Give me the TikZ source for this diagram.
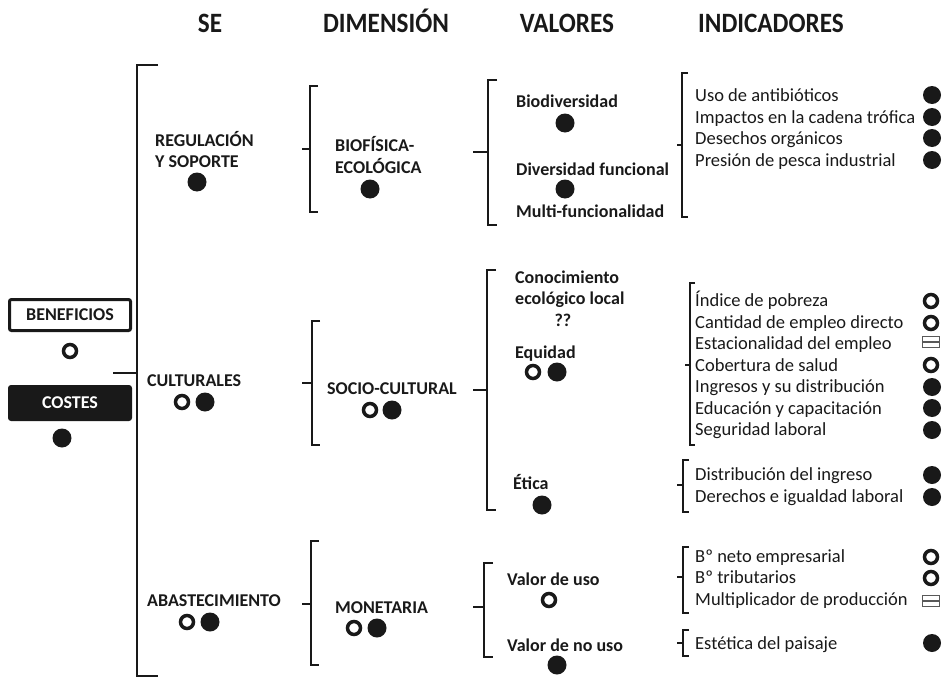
\documentclass[tikz,border=0pt]{standalone}
\usepackage{fontspec}
\setmainfont{Carlito}
\newfontfamily\hdrfont[FakeStretch=0.9]{Carlito}
\definecolor{ink}{gray}{0.1}
\newcommand{\brkt}[6]{%
  \draw[brk] (#1+#6,#2) -- (#1,#2) -- (#1,#3) -- (#1+#6,#3);
  \draw[brk] (#1,#4) -- (#1-#5,#4);}
\begin{document}
\begin{tikzpicture}[x=1pt,y=-1pt,
  hdr/.style={font=\hdrfont\fontsize{28}{32}\selectfont\bfseries, text=ink, anchor=base, inner sep=0pt},
  lbl/.style={font=\fontsize{18}{21}\selectfont\bfseries, text=ink, anchor=base west, inner sep=0pt},
  ind/.style={font=\fontsize{18.5}{21}\selectfont, text=ink, anchor=base west, inner sep=0pt},
  fdot/.style={circle, fill=ink, minimum size=19pt, inner sep=0pt},
  sdot/.style={circle, fill=ink, minimum size=18pt, inner sep=0pt},
  odot/.style={circle, draw=ink, line width=3.5pt, minimum size=13pt, inner sep=0pt},
  brk/.style={draw=ink, line width=2.6pt},
  splitbox/.style={rectangle, draw=black!65, line width=1.3pt, minimum width=17pt, minimum height=11pt, inner sep=0pt}
]
\useasboundingbox (0,0) rectangle (943,680);

% headers
\node[hdr] (hSE)  at (210,32) {SE};
\node[hdr] (hDIM) at (386,32) {DIMENSIÓN};
\node[hdr] (hVAL) at (567,32) {VALORES};
\node[hdr] (hIND) at (771,32) {INDICADORES};

% beneficios / costes
\node[draw=ink, line width=3pt, rounded corners=2pt, minimum width=121pt, minimum height=31pt,
      inner sep=0pt, font=\fontsize{18}{21}\selectfont\bfseries, text=ink] (ben) at (70,315) {BENEFICIOS};
\node[odot] (benDot) at (70,351) {};
\node[fill=ink, rounded corners=3pt, minimum width=124pt, minimum height=36pt,
      inner sep=0pt, font=\fontsize{18}{21}\selectfont\bfseries, text=white] (cos) at (70,403) {COSTES};
\node[fdot] (cosDot) at (62,438) {};

% SE bracket
\brkt{137}{65}{676}{373}{24}{21}

% SE column
\node[lbl] (reg1) at (155,146) {REGULACIÓN};
\node[lbl] (reg2) at (155,167) {Y SOPORTE};
\node[fdot] (regDot) at (197,182) {};
\node[lbl] (cul) at (147,386) {CULTURALES};
\node[odot] (culO) at (182,402) {};
\node[fdot] (culF) at (205,402) {};
\node[lbl] (aba) at (147,606) {ABASTECIMIENTO};
\node[odot] (abaO) at (187,622) {};
\node[fdot] (abaF) at (210,622) {};

% dimension brackets
\brkt{310}{86}{212}{149}{8}{8}
\brkt{312}{321}{445}{383}{10}{8}
\brkt{311}{541}{665}{604}{9}{8}

\node[lbl] (bio1) at (335,151) {BIOFÍSICA-};
\node[lbl] (bio2) at (335,173) {ECOLÓGICA};
\node[fdot] (bioDot) at (370,189) {};
\node[lbl] (soc) at (327,394) {SOCIO-CULTURAL};
\node[odot] (socO) at (370,410) {};
\node[fdot] (socF) at (392,410) {};
\node[lbl] (mon) at (335,613) {MONETARIA};
\node[odot] (monO) at (354,628) {};
\node[fdot] (monF) at (377,628) {};

% valores brackets
\brkt{488}{80}{225}{152}{15}{9}
\brkt{487}{270}{510}{390}{14}{9}
\brkt{484}{563}{657}{607}{11}{9}

\node[lbl] (v1) at (516,107) {Biodiversidad};
\node[fdot] (v1d) at (565,123) {};
\node[lbl] (v2) at (516,175) {Diversidad funcional};
\node[fdot] (v2d) at (565,189) {};
\node[lbl] (v3) at (516,217) {Multi-funcionalidad};

\node[lbl] (v4a) at (515,283) {Conocimiento};
\node[lbl] (v4b) at (515,304) {ecológico local};
\node[lbl, anchor=base] (v4c) at (563,326) {??};
\node[lbl] (v5) at (515,358) {Equidad};
\node[odot] (v5o) at (533,372) {};
\node[fdot] (v5f) at (557,372) {};
\node[lbl] (v6) at (513,489) {Ética};
\node[fdot] (v6d) at (542,505) {};

\node[lbl] (v7) at (507,585) {Valor de uso};
\node[odot] (v7d) at (549,600) {};
\node[lbl] (v8) at (507,651) {Valor de no uso};
\node[fdot] (v8d) at (557,665) {};

% indicadores brackets
\brkt{682}{73}{217}{145}{5}{6}
\brkt{690}{283}{445}{365}{5}{5}
\brkt{683}{460}{512}{485}{6}{6}
\brkt{683}{547}{613}{577}{6}{6}
\brkt{683}{630}{656}{643}{6}{6}

% indicadores group 1
\node[ind] (i1) at (695,101) {Uso de antibióticos};
\node[ind] (i2) at (695,123) {Impactos en la cadena trófica};
\node[ind] (i3) at (695,144) {Desechos orgánicos};
\node[ind] (i4) at (695,166) {Presión de pesca industrial};
\node[sdot] (s1) at (932,95) {};
\node[sdot] (s2) at (932,117) {};
\node[sdot] (s3) at (932,138) {};
\node[sdot] (s4) at (932,160) {};

% group 2
\node[ind] (i5)  at (695,306) {Índice de pobreza};
\node[ind] (i6)  at (695,328) {Cantidad de empleo directo};
\node[ind] (i7)  at (695,349) {Estacionalidad del empleo};
\node[ind] (i8)  at (695,371) {Cobertura de salud};
\node[ind] (i9)  at (695,392) {Ingresos y su distribución};
\node[ind] (i10) at (695,414) {Educación y capacitación};
\node[ind] (i11) at (695,435) {Seguridad laboral};
\node[odot] (s5) at (931,301) {};
\node[odot] (s6) at (931,323) {};
\node[splitbox] (s7) at (931,342) {};
\draw[black!65, line width=1.3pt] (s7.west) -- (s7.east);
\node[odot] (s8) at (931,365) {};
\node[sdot] (s9)  at (932,387) {};
\node[sdot] (s10) at (932,408) {};
\node[sdot] (s11) at (932,430) {};

% group 3
\node[ind] (i12) at (695,480) {Distribución del ingreso};
\node[ind] (i13) at (695,502) {Derechos e igualdad laboral};
\node[sdot] (s12) at (932,475) {};
\node[sdot] (s13) at (932,497) {};

% group 4
\node[ind] (i14) at (695,562) {Bº neto empresarial};
\node[ind] (i15) at (695,583) {Bº tributarios};
\node[ind] (i16) at (695,605) {Multiplicador de producción};
\node[odot] (s14) at (931,557) {};
\node[odot] (s15) at (931,578) {};
\node[splitbox] (s16) at (931,601) {};
\draw[black!65, line width=1.3pt] (s16.west) -- (s16.east);

% group 5
\node[ind] (i17) at (695,649) {Estética del paisaje};
\node[sdot] (s17) at (932,643) {};

\end{tikzpicture}
\end{document}
